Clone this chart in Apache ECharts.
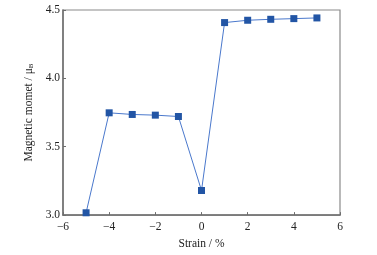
<!DOCTYPE html>
<html>
<head>
<meta charset="utf-8">
<script src="https://cdn.jsdelivr.net/npm/echarts@6/dist/echarts.min.js"></script>
<style>
  html, body { margin: 0; padding: 0; background: #fff; }
  #chart { width: 377px; height: 255px; }
</style>
</head>
<body>
<div id="chart"></div>
<script>
const strain = [-5, -4, -3, -2, -1, 0, 1, 2, 3, 4, 5]
const moment = [3.017, 3.748, 3.736, 3.731, 3.721, 3.18, 4.408, 4.425, 4.432, 4.437, 4.442]

const chart = echarts.init(document.getElementById('chart'))
const font = 'Liberation Serif'
const axisGray = '#6e6e6e'

const option = {
  animation: false,
  grid: {
    left: 63,
    right: 37,
    top: 10,
    bottom: 39,
    show: true,
    borderColor: '#8a8a8a',
    borderWidth: 1.2,
  },
  xAxis: {
    type: 'value',
    min: -6,
    max: 6,
    interval: 2,
    name: 'Strain / %',
    nameLocation: 'middle',
    nameGap: 21,
    nameTextStyle: { fontFamily: font, fontSize: 11.5, color: '#222' },
    axisLine: { show: true, onZero: false, lineStyle: { color: axisGray, width: 1.5 } },
    axisTick: { show: true, inside: true, length: 3, lineStyle: { color: axisGray } },
    axisLabel: {
      fontFamily: font, fontSize: 11.5, color: '#222', margin: 6,
      formatter: v => (v < 0 ? '\u2212' + Math.abs(v) : '' + v),
    },
    splitLine: { show: false },
  },
  yAxis: {
    type: 'value',
    min: 3.0,
    max: 4.5,
    interval: 0.5,
    name: '{a|Magnetic momet / μ}{b|B}',
    nameLocation: 'middle',
    nameGap: 19,
    nameTextStyle: {
      rich: {
        a: { fontFamily: font, fontSize: 11.5, color: '#222' },
        b: { fontFamily: font, fontSize: 7, color: '#222', verticalAlign: 'bottom', padding: [5, 0, 0, 0] },
      },
    },
    axisLine: { show: true, onZero: false, lineStyle: { color: axisGray, width: 1.5 } },
    axisTick: { show: true, inside: true, length: 3, lineStyle: { color: axisGray } },
    axisLabel: {
      fontFamily: font, fontSize: 11.5, color: '#222', margin: 3,
      formatter: v => v.toFixed(1),
    },
    splitLine: { show: false },
  },
  series: [
    {
      type: 'line',
      data: strain.map((s, i) => [s, moment[i]]),
      symbol: 'rect',
      symbolSize: 7,
      lineStyle: { color: '#4a78cc', width: 1 },
      itemStyle: { color: '#2255a5', borderWidth: 0 },
    },
  ],
}
chart.setOption(option)
</script>
</body>
</html>
